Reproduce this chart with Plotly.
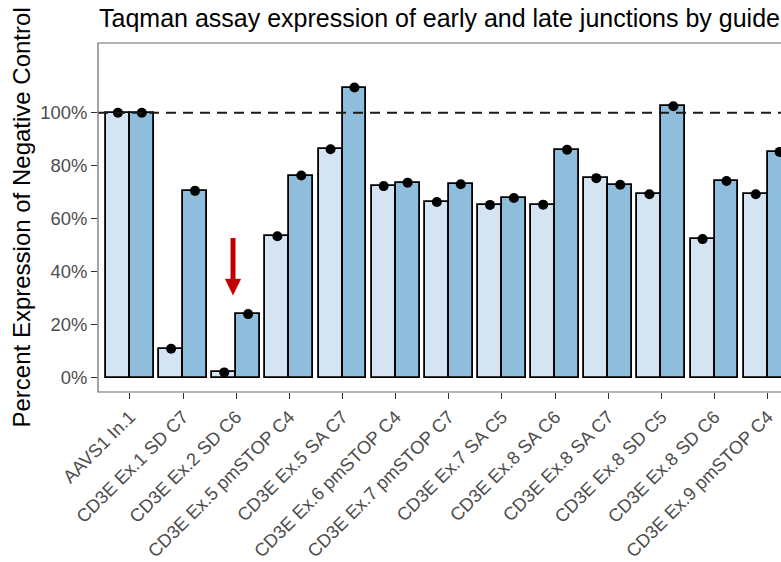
import plotly.graph_objects as go

guides = ["AAVS1 In.1", "CD3E Ex.1 SD C7", "CD3E Ex.2 SD C6", "CD3E Ex.5 pmSTOP C4",
          "CD3E Ex.5 SA C7", "CD3E Ex.6 pmSTOP C4", "CD3E Ex.7 pmSTOP C7", "CD3E Ex.7 SA C5",
          "CD3E Ex.8 SA C6", "CD3E Ex.8 SA C7", "CD3E Ex.8 SD C5", "CD3E Ex.8 SD C6",
          "CD3E Ex.9 pmSTOP C4"]
early = [100, 10.9, 2.0, 53.4, 86.2, 72.3, 66.3, 65.2, 65.3, 75.3, 69.2, 52.3, 69.2]
late = [100, 70.5, 24.0, 76.3, 109.5, 73.6, 73.0, 67.8, 86.0, 72.8, 102.4, 74.2, 85.2]
y_ticks = [0, 20, 40, 60, 80, 100]
y_tick_labels = ["0%", "20%", "40%", "60%", "80%", "100%"]
reference_level = 100
arrow_x, arrow_top, arrow_tip = 1.94, 52.7, 31.2

title = "Taqman assay expression of early and late junctions by guide"
y_title = "Percent Expression of Negative Control"

light = "#D4E4F3"
dark = "#8EBEDC"
bw = 0.45
idx = list(range(len(guides)))

fig = go.Figure()
fig.add_trace(go.Bar(x=[i - bw / 2 for i in idx], y=early, width=bw, name="Early",
                     marker=dict(color=light, line=dict(color="black", width=1.8))))
fig.add_trace(go.Bar(x=[i + bw / 2 for i in idx], y=late, width=bw, name="Late",
                     marker=dict(color=dark, line=dict(color="black", width=1.8))))
fig.add_trace(go.Scatter(x=[i - bw / 2 for i in idx], y=early, mode="markers",
                         marker=dict(color="black", size=10), showlegend=False))
fig.add_trace(go.Scatter(x=[i + bw / 2 for i in idx], y=late, mode="markers",
                         marker=dict(color="black", size=10), showlegend=False))

# dashed reference line
fig.add_shape(type="line", xref="paper", x0=0, x1=1.05, yref="y",
              y0=reference_level, y1=reference_level,
              line=dict(color="#1a1a1a", width=2, dash="10px,7px"), layer="above")

# red arrow
head_h = 6.0
head_w = 0.145
fig.add_shape(type="line", xref="x", yref="y", x0=arrow_x, x1=arrow_x,
              y0=arrow_top, y1=arrow_tip + head_h - 0.5,
              line=dict(color="#C00000", width=5), layer="above")
fig.add_shape(type="path", xref="x", yref="y",
              path=f"M {arrow_x - head_w} {arrow_tip + head_h} L {arrow_x + head_w} {arrow_tip + head_h} L {arrow_x} {arrow_tip} Z",
              fillcolor="#C00000", line=dict(color="#C00000", width=0.5), layer="above")

# panel border (extends past the right edge, which is cropped)
fig.add_shape(type="rect", xref="paper", yref="paper", x0=0, x1=1.05, y0=0, y1=1,
              line=dict(color="#6b6b6b", width=1.2), layer="above")

L, R, T, B = 98, 0, 43, 170
W, H = 781, 562
ph = H - T - B
pw = W - L - R

fig.add_annotation(text=title, xref="paper", yref="paper", x=-1 / pw, y=1 + (T - 18) / ph,
                   xanchor="left", yanchor="middle", showarrow=False,
                   font=dict(family="Liberation Sans, Arial, sans-serif", size=25, color="black"))
fig.add_annotation(text=y_title, xref="paper", yref="paper", x=(21 - L) / pw, y=0.5,
                   xanchor="center", yanchor="middle", textangle=-90, showarrow=False,
                   font=dict(family="Liberation Sans, Arial, sans-serif", size=24, color="black"))

fig.update_layout(
    width=W, height=H,
    margin=dict(l=L, r=R, t=T, b=B, pad=0, autoexpand=False),
    paper_bgcolor="white", plot_bgcolor="white",
    showlegend=False,
    bargap=0, barmode="overlay",
    font=dict(family="Liberation Sans, Arial, sans-serif"),
    xaxis=dict(range=[-0.6, 12.25], tickmode="array", tickvals=idx, ticktext=guides,
               tickangle=-45, ticks="outside", ticklen=6, tickwidth=1.2, tickcolor="#333333",
               tickfont=dict(size=18.3, color="#4D4D4D"), showgrid=False, zeroline=False,
               showline=False, fixedrange=True, automargin=False),
    yaxis=dict(range=[-5.4, 126.3], tickmode="array", tickvals=y_ticks, ticktext=y_tick_labels,
               ticks="outside", ticklen=6, tickwidth=1.2, tickcolor="#333333",
               tickfont=dict(size=18.4, color="#4D4D4D"), showgrid=False, zeroline=False,
               showline=False, fixedrange=True, automargin=False),
)

fig.write_html("out.html")
